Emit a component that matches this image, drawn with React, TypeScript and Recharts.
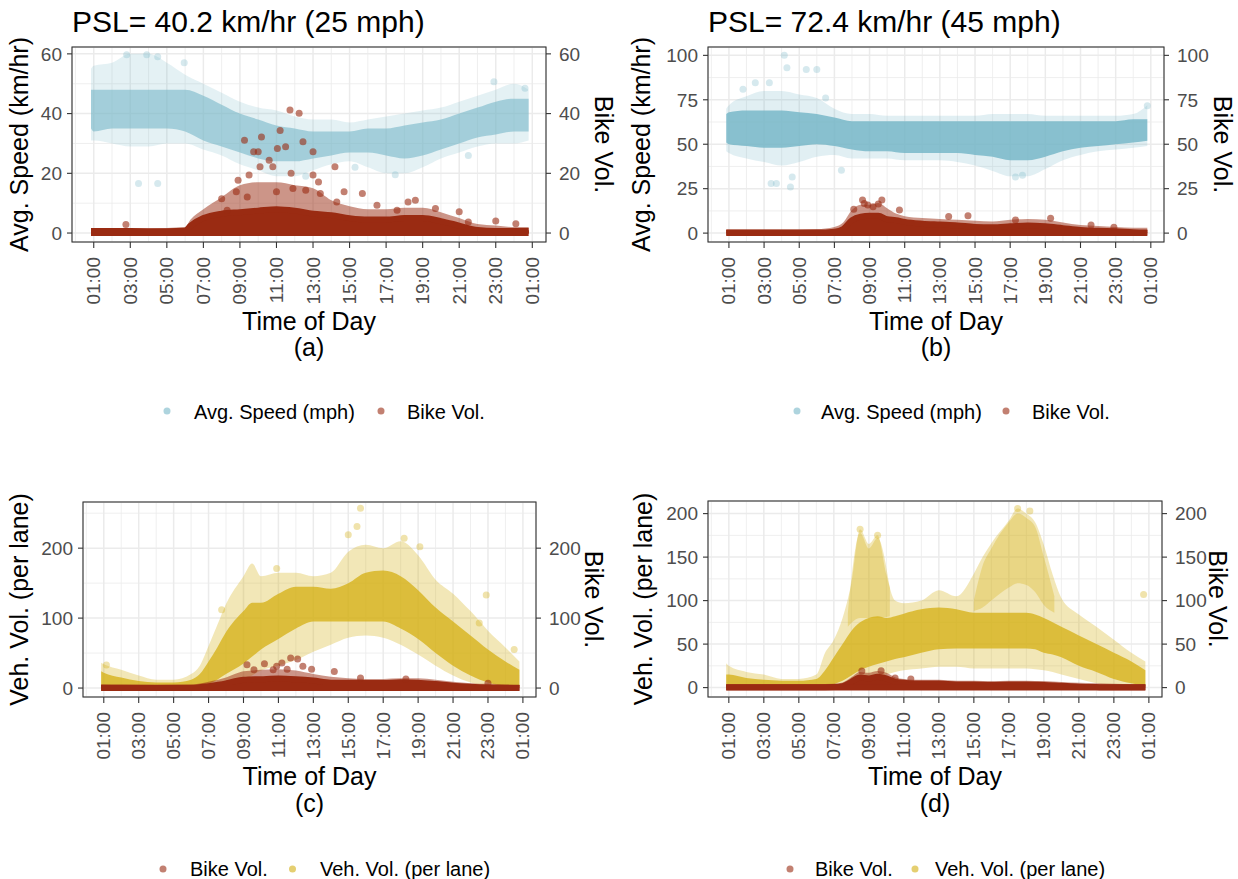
import React from 'react';
import { ComposedChart, Area, Scatter, XAxis, YAxis, CartesianGrid } from 'recharts';

const FONT = '"Liberation Sans", Arial, Helvetica, sans-serif';
const TICK_TEXT = '#4D4D4D';
const FRAME = '#333333';
const GRID = '#EBEBEB';

const SPEED_COL = '#78B7C8';
const BIKE_COL = '#9A2B12';
const VEH_COL = '#D4AF12';

// x is hours: 1 = first "01:00" tick, 25 = "01:00" of the next day
const X_DOMAIN = [-0.19, 25.75];
const X_TICKS = [1, 3, 5, 7, 9, 11, 13, 15, 17, 19, 21, 23, 25];
const X_TICK_LABELS = ['01:00', '03:00', '05:00', '07:00', '09:00', '11:00', '13:00', '15:00', '17:00', '19:00', '21:00', '23:00', '01:00'];
const X_MINOR = [0, 2, 4, 6, 8, 10, 12, 14, 16, 18, 20, 22, 24];

const T_HOURLY = [0.85, 1, 2, 3, 4, 5, 6, 7, 8, 9, 10, 11, 12, 13, 14, 15, 16, 17, 18, 19, 20, 21, 22, 23, 24, 24.8];

// ---- panel (a): PSL 40.2 km/hr ----
const speedA_outerHi = [55, 56, 57, 60, 60, 57, 53, 50, 47, 44, 42, 41, 39, 38, 38, 37, 38, 39, 40, 41, 42, 44, 46, 48, 50, 48];
const speedA_coreHi = [48, 48, 48, 48, 48, 48, 48, 46, 43, 40, 38, 36, 35, 34, 34, 34, 35, 35, 36, 37, 38, 40, 42, 44, 45, 45];
const speedA_coreLo = [35, 34, 35, 35, 35, 35, 34, 31, 29, 27, 25, 24, 24, 25, 26, 27, 27, 26, 25, 26, 28, 30, 32, 33, 34, 34];
const speedA_outerLo = [31, 31, 30, 29, 29, 30, 30, 28, 26, 23, 21, 19, 19, 21, 23, 24, 22, 20, 20, 22, 25, 27, 29, 30, 30, 31];
const speedA_outliers = [[2.8, 59.7], [3.45, 16.6], [3.9, 59.7], [4.5, 16.6], [4.5, 59], [5.95, 57], [12.6, 19], [15.3, 22], [17.5, 19.5], [21.5, 26], [22.9, 50.7], [24.6, 48.5]];

const T_BIKE_A = [0.85, 2, 4, 6, 6.3, 7, 8, 9, 10, 11, 12, 13, 14, 15, 16, 17, 18, 19, 20, 21, 22, 23, 24, 24.8];
const bikeA_dense = [0.7, 0.7, 0.6, 0.8, 2.5, 5, 6.5, 7, 7.5, 8, 7.5, 6.5, 6, 5, 4.5, 4.5, 5, 5, 4, 2.5, 1, 0.7, 0.7, 0.7];
const bikeA_mid = [1.5, 1.5, 1.5, 2, 4.5, 8, 12, 16, 17, 17, 16, 15, 11, 9, 8, 8, 8.5, 8.5, 7, 5, 3, 2.5, 2, 2];
const bikeA_outliers = [
  [2.76, 2.9], [8.0, 11.5], [8.3, 7.6], [8.8, 13.8], [8.9, 17.7], [9.25, 31.1], [9.4, 12.1], [9.5, 19.4], [9.75, 27.2],
  [10.0, 27.2], [10.1, 22.2], [10.18, 32.2], [10.6, 24.4], [10.8, 22.2], [11.0, 13.8], [11.05, 28.3], [11.2, 34.3],
  [11.5, 28.9], [11.74, 41.2], [11.8, 20], [11.9, 14.9], [12.24, 40.1], [12.45, 30.6], [12.6, 14.3], [13.0, 27.2],
  [13.0, 19.4], [13.3, 17.1], [13.4, 13.2], [14.2, 22.2], [14.3, 10.4], [14.7, 13.8], [15.7, 13.2], [16.5, 9.3],
  [17.6, 7.6], [18.2, 10.4], [18.6, 11], [19.7, 8.2], [21.0, 7.1], [21.5, 3.7], [23.0, 4.0], [24.1, 3.1],
];

// ---- panel (b): PSL 72.4 km/hr ----
const speedB_outerHi = [70, 72, 77, 80, 80, 78, 76, 70, 67, 67, 66, 66, 66, 66, 66, 66, 67, 67, 67, 66, 66, 66, 66, 66, 67, 72];
const speedB_coreHi = [67, 68, 69, 69, 69, 68, 67, 65, 63, 63, 63, 63, 63, 63, 63, 63, 63, 63, 63, 63, 63, 63, 63, 63, 64, 64];
const speedB_coreLo = [51, 50, 49, 48, 48, 49, 50, 49, 47, 46, 46, 45, 45, 45, 45, 44, 43, 41, 41, 43, 46, 48, 49, 50, 51, 52];
const speedB_outerLo = [46, 45, 42, 40, 38, 40, 43, 44, 42, 42, 42, 41, 41, 41, 40, 38, 35, 32, 32, 36, 41, 44, 46, 47, 48, 49];
const speedB_outliers = [[1.8, 81], [2.5, 84.6], [3.3, 84.6], [4.15, 100], [4.3, 93], [5.4, 92], [6.0, 92], [6.5, 76], [3.4, 27.9], [3.7, 27.9], [4.5, 26], [4.6, 31.6], [7.4, 35.3], [17.3, 31.6], [17.7, 32.5], [24.8, 71.6]];

const T_BIKE_B = [0.85, 2, 4, 6, 7, 7.5, 8, 8.5, 9, 9.5, 10, 10.5, 11, 12, 13, 14, 15, 16, 17, 18, 19, 20, 21, 22, 23, 24, 24.8];
const bikeB_dense = [0.3, 0.3, 0.3, 0.3, 0.8, 2.3, 7.3, 9.3, 9.8, 9.8, 7.8, 7.3, 6.3, 5.3, 4.8, 4.3, 3.5, 3.3, 3.8, 4.3, 3.8, 2.8, 1.8, 1.3, 1.1, 0.5, 0.3];
const bikeB_mid = [2, 2, 2, 2.3, 3.5, 6, 13, 16, 16, 17, 14, 11, 9.5, 8.5, 8, 7.5, 7, 6.5, 7.5, 8, 7.5, 6, 4.5, 4, 3.5, 3, 3];
const bikeB_outliers = [[8.1, 13.4], [8.6, 18.6], [8.7, 16.7], [8.9, 15.8], [9.2, 14.9], [9.5, 16.4], [9.7, 18.6], [10.7, 13], [13.5, 9.3], [14.6, 9.7], [17.3, 7.4], [19.3, 8.4], [21.6, 4.6], [22.9, 3.3]];

// ---- panel (c): vehicle volume, PSL 40.2 ----
const T_VEH_C = [0.85, 1, 2, 3, 4, 5, 6, 6.5, 7, 7.5, 8, 9, 9.5, 10, 11, 12, 13, 14, 15, 16, 17, 18, 19, 20, 21, 22, 23, 24, 24.8];
const vehC_outerHi = [36, 34, 26, 18, 12, 12, 20, 32, 60, 90, 120, 160, 178, 160, 165, 165, 160, 165, 195, 205, 200, 210, 190, 155, 135, 110, 82, 58, 38];
const vehC_coreHi = [24, 22, 15, 10, 8, 8, 12, 20, 38, 58, 80, 110, 122, 122, 135, 145, 145, 142, 150, 165, 168, 160, 140, 115, 95, 75, 55, 38, 26];
const vehC_coreLo = [0, 0, 0, 0, 0, 0, 0, 2, 6, 12, 20, 35, 45, 55, 70, 85, 95, 95, 95, 95, 95, 85, 70, 50, 32, 18, 8, 3, 2];
const vehC_outerLo = [0, 0, 0, 0, 0, 0, 0, 0, 0, 2, 5, 12, 18, 25, 32, 40, 52, 62, 72, 75, 72, 62, 48, 32, 18, 8, 3, 0, 0];
const vehC_outliers = [[1.15, 33], [7.75, 112], [10.9, 171], [15.0, 219], [15.5, 231], [15.7, 257], [18.2, 214], [19.1, 202], [22.5, 93], [22.9, 133], [24.5, 55]];

const T_BIKE_C = [0.85, 2, 4, 6, 7, 8, 8.5, 9, 10, 11, 12, 13, 14, 15, 16, 17, 18, 19, 20, 21, 22, 23, 24, 24.8];
const bikeC_dense = [0.3, 0.3, 0.3, 0.3, 2.7, 6.7, 9.7, 11.7, 12.7, 13.7, 12.7, 10.7, 7.7, 7.7, 7.2, 7.2, 8.2, 7.7, 5.7, 3.2, 1.7, 0.7, 0.3, 0.3];
const bikeC_mid = [5.5, 5, 4.5, 5, 9, 15, 20, 24, 26, 27, 25, 20, 16, 14, 13, 13, 14, 14, 12, 9, 7, 6, 5, 4.5];
const bikeC_outliers = [[9.2, 33.3], [9.6, 26], [10.2, 34.8], [10.7, 26], [10.9, 31], [11.2, 35.7], [11.5, 27], [11.7, 42.9], [12.1, 41.4], [12.4, 31], [12.9, 27], [14.2, 23.8], [15.7, 14.3], [18.3, 12.9], [23, 7]];

// ---- panel (d): vehicle volume, PSL 72.4 ----
const T_VEH_D = [0.85, 1, 2, 3, 4, 5, 6, 6.5, 7, 7.5, 8, 8.5, 9, 9.5, 10, 10.5, 11, 12, 13, 14, 15, 15.5, 16, 17, 17.5, 18, 18.5, 19, 19.5, 20, 21, 22, 23, 24, 24.8];
const vehD_outerHi = [28, 25, 18, 15, 10, 10, 15, 40, 55, 80, 120, 182, 165, 175, 130, 100, 97, 100, 112, 105, 131, 150, 166, 192, 206, 200, 190, 164, 130, 103, 84, 70, 55, 40, 30];
const vehD_coreHi = [15, 15, 11, 9, 8, 8, 10, 20, 35, 50, 65, 75, 80, 82, 80, 82, 85, 90, 92, 90, 86, 86, 86, 86, 86, 86, 84, 80, 75, 70, 60, 50, 40, 30, 20];
const vehD_coreLo = [0, 0, 0, 0, 0, 0, 0, 0, 4, 8, 14, 20, 24, 27, 30, 33, 35, 40, 44, 45, 45, 45, 45, 45, 45, 45, 44, 40, 38, 35, 25, 18, 10, 5, 2];
const vehD_outerLo = [0, 0, 0, 0, 0, 0, 0, 0, 0, 0, 4, 6, 8, 12, 15, 18, 20, 22, 24, 24, 22, 22, 22, 22, 22, 22, 21, 20, 18, 15, 10, 5, 2, 0, 0];
const T_PEAK_AM = [7.8, 8.5, 9, 9.5, 10.2];
const vehD_amHi = [85, 178, 160, 172, 115];
const vehD_amLo = [70, 80, 80, 80, 82];
const T_PEAK_PM = [15, 15.5, 16, 17, 17.5, 18, 18.5, 19, 19.6];
const vehD_pmHi = [100, 140, 160, 190, 200, 195, 185, 150, 105];
const vehD_pmLo = [88, 92, 100, 115, 120, 118, 110, 95, 86];
const vehD_outliers = [[8.5, 182], [9.5, 175], [17.5, 206], [18.2, 203], [24.7, 107]];

const T_BIKE_D = [0.85, 2, 4, 6, 7, 7.5, 8, 8.5, 9, 9.5, 10, 10.5, 11, 12, 13, 14, 15, 16, 17, 18, 19, 20, 21, 22, 23, 24, 24.8];
const bikeD_dense = [0.3, 0.3, 0.3, 0.3, 0.6, 1.6, 6.6, 11.6, 10.6, 12.6, 10.6, 6.6, 5.6, 4.6, 4.6, 3.6, 3.6, 3.1, 3.6, 3.6, 3.1, 2.1, 1.1, 0.6, 0.3, 0.3, 0.3];
const bikeD_mid = [4, 4, 4, 4, 4.5, 6, 12, 18, 17, 19, 17, 12, 10, 9, 9, 8, 8, 7.5, 8, 8, 7.5, 6.5, 5.5, 5, 4.5, 4, 4];
const bikeD_outliers = [[8.6, 19], [9.7, 19.4], [10.5, 11], [11.4, 9.8]];

type Band = { t: number[]; lo: number[] | number; hi: number[]; color: string; opacity: number; stroke?: number };
type Dots = { pts: number[][]; color: string; opacity: number };
type PanelCfg = {
  box: [number, number, number, number];
  yDomain: [number, number];
  yTicks: number[];
  yMinor: number[];
  bands: Band[];
  dots: Dots[];
};

const rangeRows = (b: Band) =>
  b.t.map((t, i) => ({ t, r: [typeof b.lo === 'number' ? b.lo : b.lo[i], b.hi[i]] }));

const PANEL_A: PanelCfg = {
  box: [72, 47, 546, 242],
  yDomain: [-3, 62.3],
  yTicks: [0, 20, 40, 60],
  yMinor: [10, 30, 50],
  bands: [
    { t: T_HOURLY, lo: speedA_outerLo, hi: speedA_outerHi, color: SPEED_COL, opacity: 0.2 },
    { t: T_HOURLY, lo: speedA_coreLo, hi: speedA_coreHi, color: SPEED_COL, opacity: 0.6 },
    { t: T_BIKE_A, lo: 0, hi: bikeA_mid, color: BIKE_COL, opacity: 0.5 },
    { t: T_BIKE_A, lo: 0, hi: bikeA_dense, color: BIKE_COL, opacity: 1, stroke: 6 },
  ],
  dots: [
    { pts: speedA_outliers, color: SPEED_COL, opacity: 0.3 },
    { pts: bikeA_outliers, color: BIKE_COL, opacity: 0.6 },
  ],
};

const PANEL_B: PanelCfg = {
  box: [708, 47, 1164, 242],
  yDomain: [-5, 104.7],
  yTicks: [0, 25, 50, 75, 100],
  yMinor: [12.5, 37.5, 62.5, 87.5],
  bands: [
    { t: T_HOURLY, lo: speedB_outerLo, hi: speedB_outerHi, color: SPEED_COL, opacity: 0.22 },
    { t: T_HOURLY, lo: speedB_coreLo, hi: speedB_coreHi, color: SPEED_COL, opacity: 0.85 },
    { t: T_BIKE_B, lo: 0, hi: bikeB_mid, color: BIKE_COL, opacity: 0.5 },
    { t: T_BIKE_B, lo: 0, hi: bikeB_dense, color: BIKE_COL, opacity: 1, stroke: 6 },
  ],
  dots: [
    { pts: speedB_outliers, color: SPEED_COL, opacity: 0.3 },
    { pts: bikeB_outliers, color: BIKE_COL, opacity: 0.6 },
  ],
};

const PANEL_C: PanelCfg = {
  box: [83, 502, 536, 697],
  yDomain: [-12.8, 266],
  yTicks: [0, 100, 200],
  yMinor: [50, 150, 250],
  bands: [
    { t: T_VEH_C, lo: vehC_outerLo, hi: vehC_outerHi, color: VEH_COL, opacity: 0.3 },
    { t: T_VEH_C, lo: vehC_coreLo, hi: vehC_coreHi, color: VEH_COL, opacity: 0.75 },
    { t: T_BIKE_C, lo: 0, hi: bikeC_mid, color: BIKE_COL, opacity: 0.5 },
    { t: T_BIKE_C, lo: 0, hi: bikeC_dense, color: BIKE_COL, opacity: 1, stroke: 6 },
  ],
  dots: [
    { pts: vehC_outliers, color: VEH_COL, opacity: 0.35 },
    { pts: bikeC_outliers, color: BIKE_COL, opacity: 0.6 },
  ],
};

const PANEL_D: PanelCfg = {
  box: [708, 501, 1162, 697],
  yDomain: [-10.8, 214.5],
  yTicks: [0, 50, 100, 150, 200],
  yMinor: [25, 75, 125, 175],
  bands: [
    { t: T_VEH_D, lo: vehD_outerLo, hi: vehD_outerHi, color: VEH_COL, opacity: 0.3 },
    { t: T_PEAK_AM, lo: vehD_amLo, hi: vehD_amHi, color: VEH_COL, opacity: 0.3 },
    { t: T_PEAK_PM, lo: vehD_pmLo, hi: vehD_pmHi, color: VEH_COL, opacity: 0.3 },
    { t: T_VEH_D, lo: vehD_coreLo, hi: vehD_coreHi, color: VEH_COL, opacity: 0.75 },
    { t: T_BIKE_D, lo: 0, hi: bikeD_mid, color: BIKE_COL, opacity: 0.5 },
    { t: T_BIKE_D, lo: 0, hi: bikeD_dense, color: BIKE_COL, opacity: 1, stroke: 6 },
  ],
  dots: [
    { pts: vehD_outliers, color: VEH_COL, opacity: 0.35 },
    { pts: bikeD_outliers, color: BIKE_COL, opacity: 0.6 },
  ],
};

const TimeTick = (props: any) => {
  const { x, y, payload } = props;
  const i = X_TICKS.indexOf(payload.value);
  return (
    <text
      transform={`translate(${x},${y + 9}) rotate(-90)`}
      textAnchor="end"
      dominantBaseline="central"
      fontSize={19}
      fill={TICK_TEXT}
      fontFamily={FONT}
    >
      {X_TICK_LABELS[i]}
    </text>
  );
};

function Panel({ cfg }: { cfg: PanelCfg }) {
  const [L, T, R, B] = cfg.box;
  const W = R - L + 140;
  const H = B - T + 90;
  const yTickStyle = { fill: TICK_TEXT, fontSize: 19, fontFamily: FONT };
  return (
    <div style={{ position: 'absolute', left: L - 70, top: T - 10 }}>
      <ComposedChart width={W} height={H} margin={{ top: 10, right: 0, bottom: 0, left: 0 }}>
        <CartesianGrid verticalValues={X_MINOR} horizontalValues={cfg.yMinor} stroke={GRID} strokeWidth={0.8} />
        <CartesianGrid stroke={GRID} strokeWidth={1.5} />
        <XAxis
          dataKey="t"
          type="number"
          domain={X_DOMAIN}
          ticks={X_TICKS}
          interval={0}
          allowDataOverflow
          axisLine={false}
          tickSize={6}
          tickMargin={0}
          tickLine={{ stroke: FRAME, strokeWidth: 1.1 }}
          tick={<TimeTick />}
          height={80}
        />
        <YAxis
          type="number"
          domain={cfg.yDomain}
          ticks={cfg.yTicks}
          interval={0}
          allowDataOverflow
          axisLine={false}
          tickSize={5}
          tickMargin={5}
          tickLine={{ stroke: FRAME, strokeWidth: 1.1 }}
          tick={yTickStyle}
          width={70}
        />
        <YAxis
          yAxisId="right"
          orientation="right"
          type="number"
          domain={cfg.yDomain}
          ticks={cfg.yTicks}
          interval={0}
          allowDataOverflow
          axisLine={false}
          tickSize={5}
          tickMargin={8}
          tickLine={{ stroke: FRAME, strokeWidth: 1.1 }}
          tick={yTickStyle}
          width={70}
        />
        {cfg.bands.map((b, i) => (
          <Area
            key={`band-${i}`}
            data={rangeRows(b)}
            dataKey="r"
            type="monotone"
            fill={b.color}
            fillOpacity={b.opacity}
            stroke={b.stroke ? b.color : 'none'}
            strokeWidth={b.stroke ?? 0}
            strokeLinejoin="round"
            dot={false}
            activeDot={false}
            isAnimationActive={false}
          />
        ))}
        {cfg.dots.map((d, i) => (
          <Scatter
            key={`dots-${i}`}
            data={d.pts.map(([t, v]) => ({ t, v }))}
            dataKey="v"
            isAnimationActive={false}
            shape={(p: any) => <circle cx={p.cx} cy={p.cy} r={3.5} fill={d.color} fillOpacity={d.opacity} />}
          />
        ))}
      </ComposedChart>
    </div>
  );
}

const PANELS = [PANEL_A, PANEL_B, PANEL_C, PANEL_D];

export default function App() {
  return (
    <div style={{ position: 'absolute', left: 0, top: 0, width: 1238, height: 879, background: '#fff' }}>
      {PANELS.map((p, i) => (
        <Panel key={i} cfg={p} />
      ))}
      <svg
        width={1238}
        height={879}
        style={{ position: 'absolute', left: 0, top: 0, pointerEvents: 'none' }}
        fontFamily={FONT}
      >
        {PANELS.map((p, i) => {
          const [L, T, R, B] = p.box;
          return <rect key={i} x={L} y={T} width={R - L} height={B - T} fill="none" stroke={FRAME} strokeWidth={1.1} />;
        })}

        <text x={72} y={32} fontSize={30} fill="#000">PSL= 40.2 km/hr (25 mph)</text>
        <text x={708} y={32} fontSize={30} fill="#000">PSL= 72.4 km/hr (45 mph)</text>

        <g fontSize={25} fill="#000" textAnchor="middle">
          <text x={309} y={329.5}>Time of Day</text>
          <text x={309} y={356}>(a)</text>
          <text x={936} y={329.5}>Time of Day</text>
          <text x={936} y={356}>(b)</text>
          <text x={309.5} y={785}>Time of Day</text>
          <text x={309.5} y={812}>(c)</text>
          <text x={935} y={785}>Time of Day</text>
          <text x={935} y={812}>(d)</text>

          <text transform="translate(27.5,144.5) rotate(-90)">Avg. Speed (km/hr)</text>
          <text transform="translate(650,144.5) rotate(-90)">Avg. Speed (km/hr)</text>
          <text transform="translate(28,599.5) rotate(-90)">Veh. Vol. (per lane)</text>
          <text transform="translate(651.5,599) rotate(-90)">Veh. Vol. (per lane)</text>

          <text transform="translate(595,144.5) rotate(90)">Bike Vol.</text>
          <text transform="translate(1214,144.5) rotate(90)">Bike Vol.</text>
          <text transform="translate(585,599.5) rotate(90)">Bike Vol.</text>
          <text transform="translate(1209,599) rotate(90)">Bike Vol.</text>
        </g>

        <g fontSize={20} fill="#000">
          <circle cx={167} cy={411} r={3.5} fill={SPEED_COL} fillOpacity={0.6} />
          <text x={194} y={418.5}>Avg. Speed (mph)</text>
          <circle cx={381} cy={411} r={3.5} fill={BIKE_COL} fillOpacity={0.6} />
          <text x={407} y={418.5}>Bike Vol.</text>

          <circle cx={797} cy={411} r={3.5} fill={SPEED_COL} fillOpacity={0.6} />
          <text x={821} y={418.5}>Avg. Speed (mph)</text>
          <circle cx={1006} cy={411} r={3.5} fill={BIKE_COL} fillOpacity={0.6} />
          <text x={1032} y={418.5}>Bike Vol.</text>

          <circle cx={163} cy={869} r={3.5} fill={BIKE_COL} fillOpacity={0.6} />
          <text x={190} y={876}>Bike Vol.</text>
          <circle cx={292.5} cy={869} r={3.5} fill={VEH_COL} fillOpacity={0.6} />
          <text x={320} y={876}>Veh. Vol. (per lane)</text>

          <circle cx={790} cy={869} r={3.5} fill={BIKE_COL} fillOpacity={0.6} />
          <text x={815} y={876}>Bike Vol.</text>
          <circle cx={915} cy={869} r={3.5} fill={VEH_COL} fillOpacity={0.6} />
          <text x={935} y={876}>Veh. Vol. (per lane)</text>
        </g>
      </svg>
    </div>
  );
}
